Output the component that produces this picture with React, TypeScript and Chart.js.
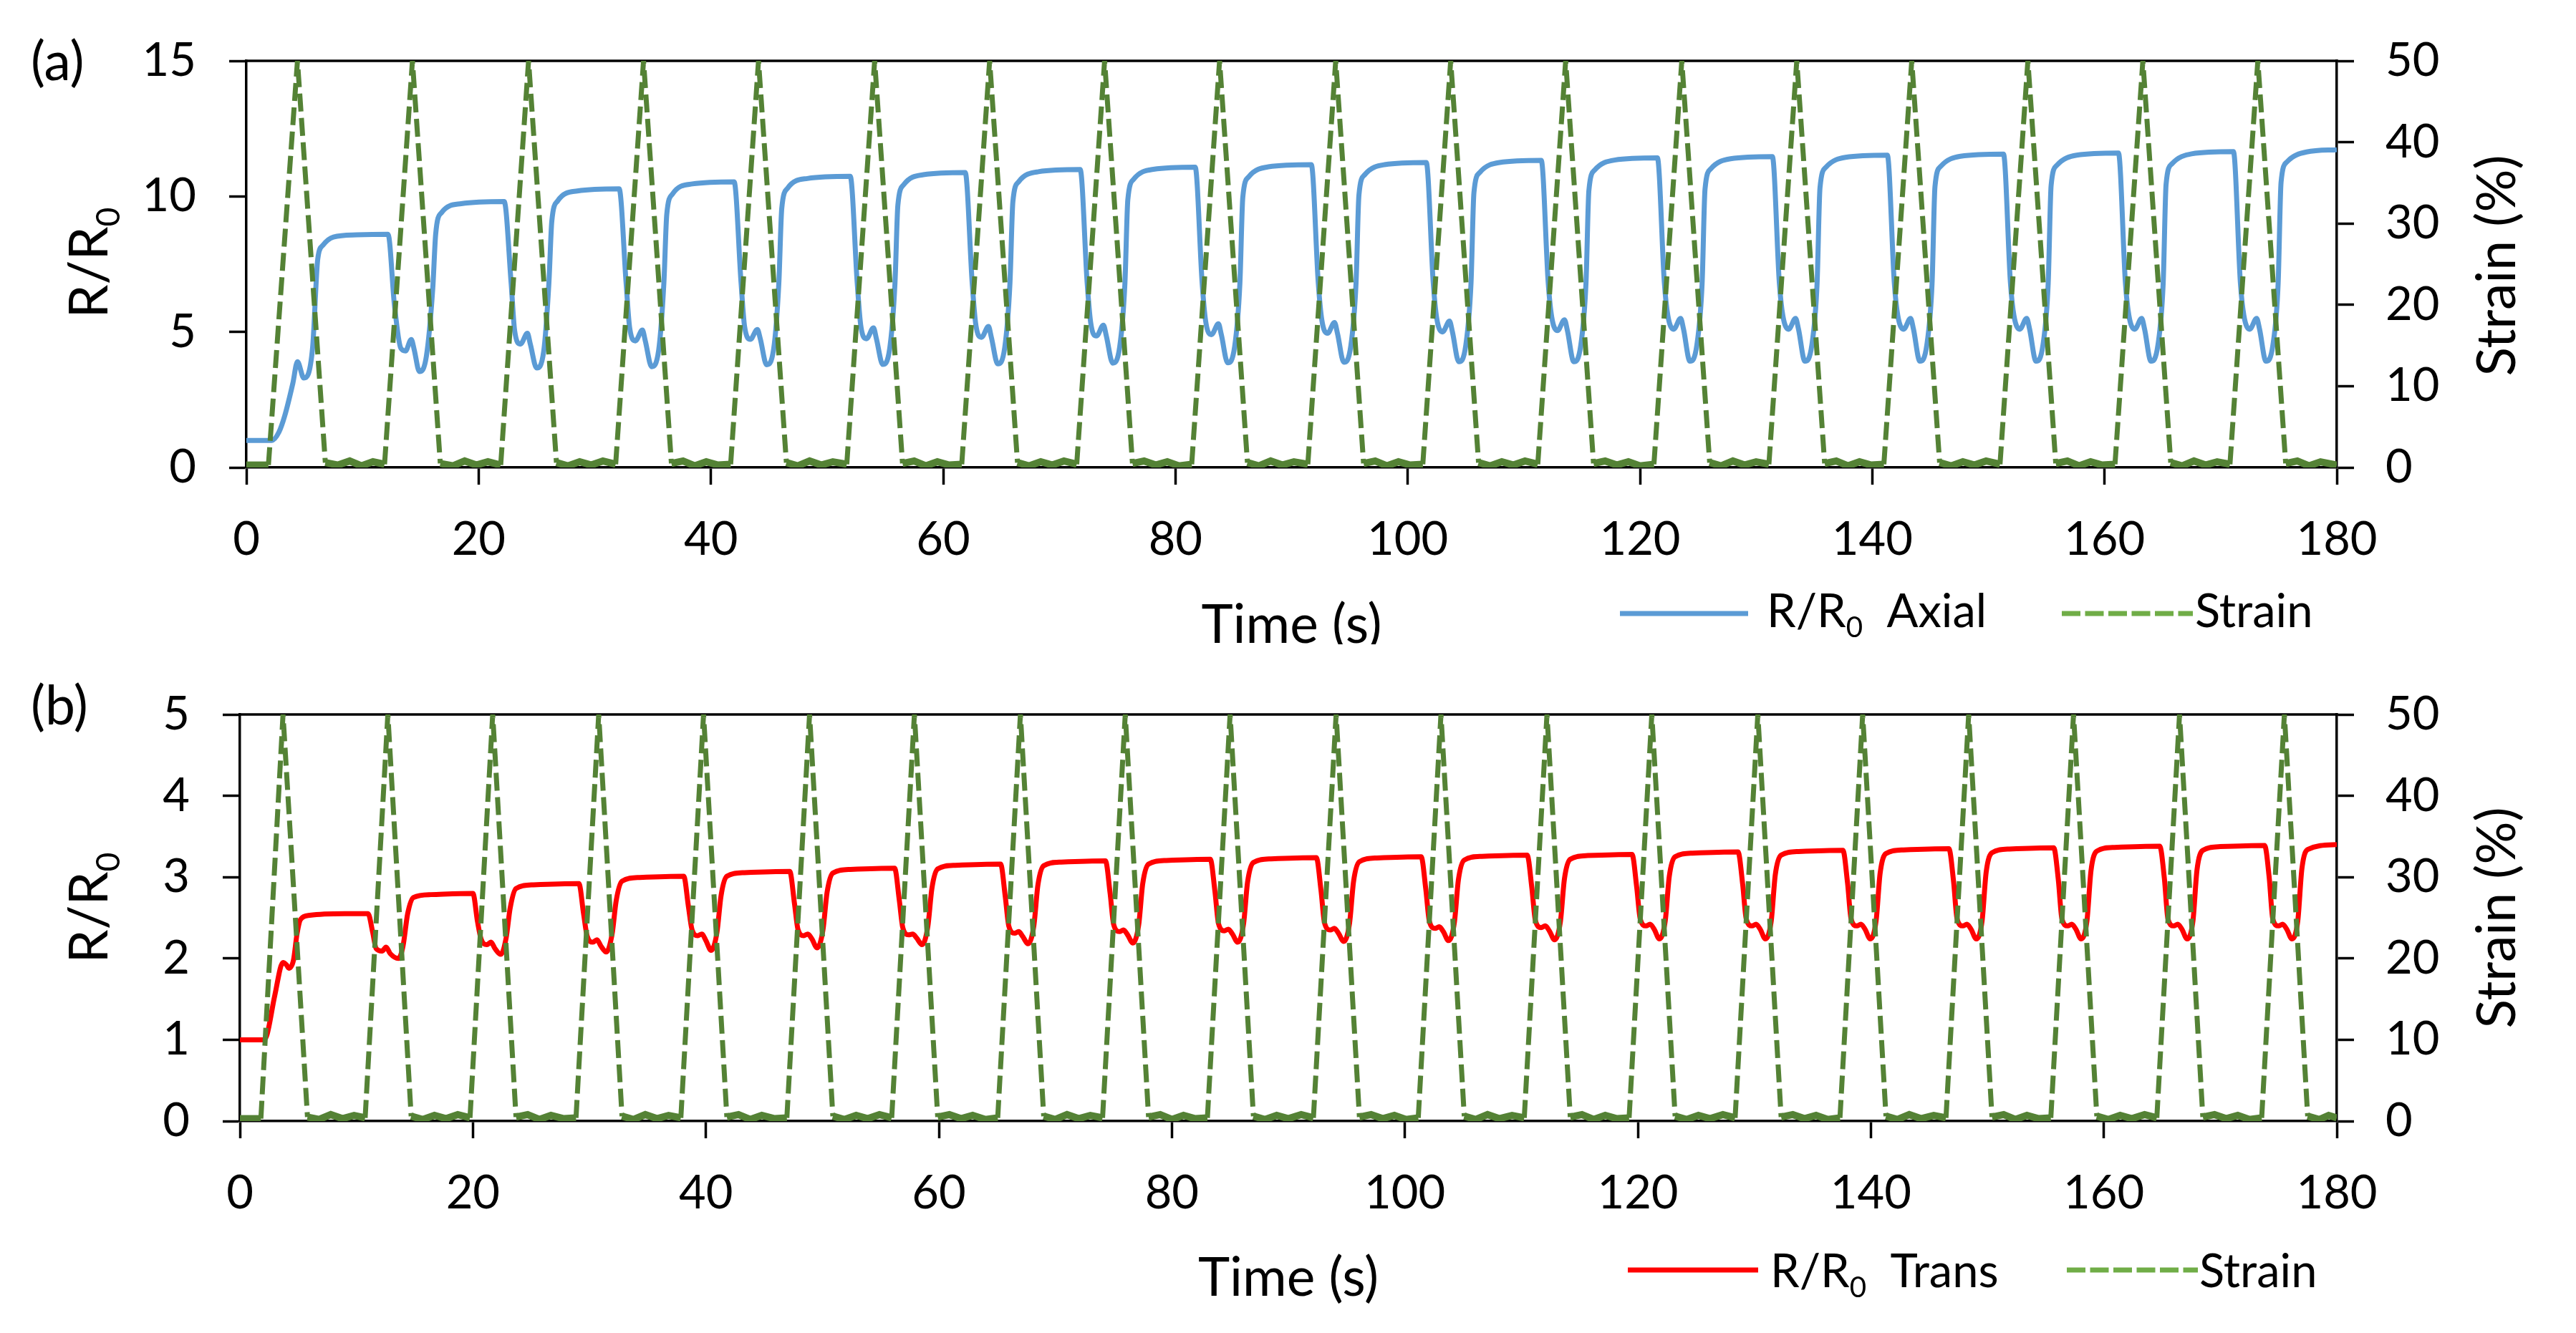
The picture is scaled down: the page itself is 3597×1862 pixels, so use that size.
import { useRef, useEffect } from 'react'
import { Chart, registerables } from 'chart.js'

Chart.register(...registerables)

type Pt = [number, number]

const TIME_TICKS = [0, 20, 40, 60, 80, 100, 120, 140, 160, 180]
const AXIAL_TICKS = [0, 5, 10, 15]
const TRANS_TICKS = [0, 1, 2, 3, 4, 5]
const STRAIN_TICKS = [0, 10, 20, 30, 40, 50]

// panel (a): R/R0 axial, read cycle by cycle
const AXIAL: Pt[] = [
  [0, 1.0], [2.2, 1.0], [2.8, 1.3], [3.3, 1.9], [4.0, 3.1], [4.4, 3.9], [4.95, 3.3], [5.7, 4.4], [6.15, 7.7], [6.6, 8.2], [7.5, 8.5], [9.5, 8.58],
  [12.2, 8.6], [12.75, 6.0], [13.3, 4.4], [13.7, 4.3], [14.2, 4.72], [14.45, 4.35], [14.9, 3.54], [15.5, 4.1], [16.05, 6.6], [16.3, 8.6], [16.8, 9.4], [18.5, 9.73],
  [22.2, 9.81], [22.8, 6.8], [23.1, 5.05], [23.6, 4.55], [24.2, 4.95], [24.45, 4.55], [25.0, 3.67], [25.6, 4.27], [26.05, 6.8], [26.3, 9.08], [26.8, 9.83], [28.5, 10.2],
  [32.1, 10.28], [32.7, 6.8], [33.0, 5.17], [33.5, 4.67], [34.1, 5.07], [34.35, 4.67], [34.9, 3.72], [35.5, 4.32], [35.95, 6.8], [36.2, 9.34], [36.7, 10.09], [38.4, 10.46],
  [42.0, 10.54], [42.6, 6.8], [42.9, 5.2], [43.4, 4.73], [44.0, 5.09], [44.25, 4.75], [44.8, 3.79], [45.4, 4.36], [45.85, 6.8], [46.1, 9.55], [46.6, 10.3], [48.3, 10.66],
  [52.0, 10.74], [52.6, 6.8], [52.9, 5.25], [53.4, 4.75], [54.0, 5.15], [54.25, 4.75], [54.8, 3.8], [55.4, 4.4], [55.85, 6.8], [56.1, 9.68], [56.6, 10.43], [58.3, 10.8],
  [61.9, 10.88], [62.5, 6.8], [62.8, 5.3], [63.3, 4.8], [63.9, 5.2], [64.15, 4.8], [64.7, 3.82], [65.3, 4.42], [65.75, 6.8], [66.0, 9.79], [66.5, 10.54], [68.2, 10.91],
  [71.8, 10.99], [72.4, 6.8], [72.7, 5.35], [73.2, 4.85], [73.8, 5.25], [74.05, 4.85], [74.6, 3.85], [75.2, 4.45], [75.65, 6.8], [75.9, 9.88], [76.4, 10.63], [78.1, 11.0],
  [81.7, 11.08], [82.3, 6.8], [82.6, 5.4], [83.1, 4.9], [83.7, 5.3], [83.95, 4.9], [84.5, 3.86], [85.1, 4.46], [85.55, 6.8], [85.8, 9.97], [86.3, 10.72], [88.0, 11.09],
  [91.7, 11.17], [92.3, 6.8], [92.6, 5.45], [93.1, 4.95], [93.7, 5.35], [93.95, 4.95], [94.5, 3.88], [95.1, 4.48], [95.55, 6.8], [95.8, 10.05], [96.3, 10.8], [98.0, 11.17],
  [101.6, 11.25], [102.2, 6.8], [102.5, 5.5], [103.0, 5.0], [103.6, 5.4], [103.85, 5.0], [104.4, 3.9], [105.0, 4.5], [105.45, 6.8], [105.7, 10.13], [106.2, 10.88], [107.9, 11.25],
  [111.5, 11.33], [112.1, 6.8], [112.4, 5.55], [112.9, 5.05], [113.5, 5.45], [113.75, 5.05], [114.3, 3.9], [114.9, 4.5], [115.35, 6.8], [115.6, 10.22], [116.1, 10.97], [117.8, 11.34],
  [121.5, 11.42], [122.1, 6.8], [122.4, 5.6], [122.9, 5.1], [123.5, 5.5], [123.75, 5.1], [124.3, 3.92], [124.9, 4.52], [125.35, 6.8], [125.6, 10.27], [126.1, 11.02], [127.8, 11.39],
  [131.4, 11.47], [132.0, 6.8], [132.3, 5.6], [132.8, 5.1], [133.4, 5.5], [133.65, 5.1], [134.2, 3.92], [134.8, 4.52], [135.25, 6.8], [135.5, 10.32], [136.0, 11.07], [137.7, 11.44],
  [141.3, 11.52], [141.9, 6.8], [142.2, 5.6], [142.7, 5.1], [143.3, 5.5], [143.55, 5.1], [144.1, 3.92], [144.7, 4.52], [145.15, 6.8], [145.4, 10.36], [145.9, 11.11], [147.6, 11.48],
  [151.3, 11.56], [151.9, 6.8], [152.2, 5.6], [152.7, 5.1], [153.3, 5.5], [153.55, 5.1], [154.1, 3.92], [154.7, 4.52], [155.15, 6.8], [155.4, 10.4], [155.9, 11.15], [157.6, 11.52],
  [161.2, 11.6], [161.8, 6.8], [162.1, 5.6], [162.6, 5.1], [163.2, 5.5], [163.45, 5.1], [164.0, 3.92], [164.6, 4.52], [165.05, 6.8], [165.3, 10.45], [165.8, 11.2], [167.5, 11.57],
  [171.1, 11.65], [171.7, 6.8], [172.0, 5.6], [172.5, 5.1], [173.1, 5.5], [173.35, 5.1], [173.9, 3.92], [174.5, 4.52], [174.95, 6.8], [175.2, 10.52], [175.7, 11.27], [177.4, 11.64], [180, 11.72],
]

const STRAIN_A: Pt[] = [
  [0, 0.3], [1.9, 0.3], [4.4, 50], [6.8, 0.6], [7.9, 0.3], [8.9, 0.8], [9.9, 0.2], [10.9, 0.7], [11.9, 0.4],
  [14.3, 50], [16.7, 0.5], [17.8, 0.2], [18.8, 0.8], [19.8, 0.3], [20.8, 0.7], [21.9, 0.3],
  [24.3, 50], [26.7, 0.6], [27.7, 0.2], [28.7, 0.7], [29.7, 0.3], [30.7, 0.8], [31.8, 0.4],
  [34.2, 50], [36.6, 0.5], [37.6, 0.8], [38.6, 0.2], [39.6, 0.7], [40.6, 0.3], [41.7, 0.4],
  [44.1, 50], [46.5, 0.6], [47.5, 0.2], [48.5, 0.8], [49.5, 0.3], [50.5, 0.7], [51.7, 0.4],
  [54.1, 50], [56.5, 0.5], [57.5, 0.8], [58.5, 0.2], [59.5, 0.7], [60.5, 0.3], [61.6, 0.4],
  [64.0, 50], [66.4, 0.6], [67.4, 0.2], [68.4, 0.7], [69.4, 0.3], [70.4, 0.8], [71.5, 0.4],
  [73.9, 50], [76.3, 0.5], [77.3, 0.8], [78.3, 0.3], [79.3, 0.7], [80.3, 0.2], [81.4, 0.4],
  [83.8, 50], [86.2, 0.6], [87.2, 0.2], [88.2, 0.8], [89.2, 0.3], [90.2, 0.7], [91.4, 0.4],
  [93.8, 50], [96.2, 0.5], [97.2, 0.8], [98.2, 0.2], [99.2, 0.7], [100.2, 0.3], [101.3, 0.4],
  [103.7, 50], [106.1, 0.6], [107.1, 0.2], [108.1, 0.7], [109.1, 0.3], [110.1, 0.8], [111.2, 0.4],
  [113.6, 50], [116.0, 0.5], [117.0, 0.8], [118.0, 0.3], [119.0, 0.7], [120.0, 0.2], [121.2, 0.4],
  [123.6, 50], [126.0, 0.6], [127.0, 0.2], [128.0, 0.8], [129.0, 0.3], [130.0, 0.7], [131.1, 0.4],
  [133.5, 50], [135.9, 0.5], [136.9, 0.8], [137.9, 0.2], [138.9, 0.7], [139.9, 0.3], [141.0, 0.4],
  [143.4, 50], [145.8, 0.6], [146.8, 0.2], [147.8, 0.7], [148.8, 0.3], [149.8, 0.8], [151.0, 0.4],
  [153.4, 50], [155.8, 0.5], [156.8, 0.8], [157.8, 0.2], [158.8, 0.7], [159.8, 0.3], [160.9, 0.4],
  [163.3, 50], [165.7, 0.6], [166.7, 0.2], [167.7, 0.8], [168.7, 0.3], [169.7, 0.7], [170.8, 0.4],
  [173.2, 50], [175.6, 0.5], [176.6, 0.8], [177.6, 0.2], [178.6, 0.7], [180, 0.3],
]

// panel (b): R/R0 transverse
const TRANS: Pt[] = [
  [0, 1.0], [2.0, 1.0], [2.3, 1.05], [3.0, 1.55], [3.7, 1.95], [4.0, 1.92], [4.2, 1.88], [4.6, 1.98], [4.9, 2.3], [5.2, 2.48], [6.0, 2.53], [9.0, 2.55],
  [11.0, 2.55], [11.4, 2.32], [11.7, 2.12], [12.2, 2.09], [12.55, 2.14], [12.9, 2.06], [13.6, 2.0], [14.0, 2.15], [14.4, 2.55], [14.9, 2.75], [16.4, 2.785],
  [20.0, 2.8], [20.4, 2.45], [20.7, 2.24], [21.2, 2.17], [21.55, 2.2], [21.9, 2.12], [22.4, 2.05], [22.85, 2.25], [23.2, 2.62], [23.7, 2.86], [25.2, 2.905],
  [29.1, 2.92], [29.5, 2.55], [29.8, 2.28], [30.3, 2.2], [30.65, 2.23], [31.0, 2.15], [31.45, 2.08], [31.95, 2.3], [32.3, 2.71], [32.8, 2.95], [34.3, 2.995],
  [38.1, 3.01], [38.5, 2.64], [38.8, 2.36], [39.3, 2.28], [39.65, 2.3], [40.0, 2.22], [40.45, 2.1], [40.95, 2.32], [41.3, 2.77], [41.8, 3.01], [43.3, 3.055],
  [47.2, 3.07], [47.6, 2.68], [47.9, 2.36], [48.4, 2.28], [48.75, 2.3], [49.1, 2.24], [49.55, 2.13], [50.05, 2.35], [50.4, 2.81], [50.9, 3.05], [52.4, 3.095],
  [56.2, 3.11], [56.6, 2.72], [56.9, 2.38], [57.4, 2.29], [57.75, 2.3], [58.1, 2.25], [58.55, 2.17], [59.05, 2.39], [59.4, 2.86], [59.9, 3.1], [61.4, 3.145],
  [65.3, 3.16], [65.7, 2.76], [66.0, 2.4], [66.5, 2.31], [66.85, 2.33], [67.2, 2.27], [67.65, 2.18], [68.15, 2.4], [68.5, 2.9], [69.0, 3.14], [70.5, 3.185],
  [74.3, 3.2], [74.7, 2.8], [75.0, 2.42], [75.5, 2.33], [75.85, 2.35], [76.2, 2.29], [76.65, 2.19], [77.15, 2.41], [77.5, 2.92], [78.0, 3.16], [79.5, 3.205],
  [83.3, 3.22], [83.7, 2.82], [84.0, 2.43], [84.5, 2.34], [84.85, 2.36], [85.2, 2.3], [85.65, 2.2], [86.15, 2.42], [86.5, 2.94], [87.0, 3.18], [88.5, 3.225],
  [92.4, 3.24], [92.8, 2.84], [93.1, 2.44], [93.6, 2.35], [93.95, 2.37], [94.3, 2.31], [94.75, 2.21], [95.25, 2.43], [95.6, 2.95], [96.1, 3.19], [97.6, 3.235],
  [101.4, 3.25], [101.8, 2.85], [102.1, 2.46], [102.6, 2.37], [102.95, 2.39], [103.3, 2.33], [103.75, 2.22], [104.25, 2.44], [104.6, 2.97], [105.1, 3.21], [106.6, 3.255],
  [110.5, 3.27], [110.9, 2.87], [111.2, 2.47], [111.7, 2.38], [112.05, 2.4], [112.4, 2.34], [112.85, 2.23], [113.35, 2.45], [113.7, 2.98], [114.2, 3.22], [115.7, 3.265],
  [119.5, 3.28], [119.9, 2.88], [120.2, 2.49], [120.7, 2.4], [121.05, 2.42], [121.4, 2.36], [121.85, 2.24], [122.35, 2.46], [122.7, 3.01], [123.2, 3.25], [124.7, 3.295],
  [128.6, 3.31], [129.0, 2.91], [129.3, 2.49], [129.8, 2.4], [130.15, 2.42], [130.5, 2.36], [130.95, 2.24], [131.45, 2.46], [131.8, 3.03], [132.3, 3.27], [133.8, 3.315],
  [137.6, 3.33], [138.0, 2.93], [138.3, 2.49], [138.8, 2.4], [139.15, 2.42], [139.5, 2.36], [139.95, 2.24], [140.45, 2.46], [140.8, 3.05], [141.3, 3.29], [142.8, 3.335],
  [146.7, 3.35], [147.1, 2.95], [147.4, 2.49], [147.9, 2.4], [148.25, 2.42], [148.6, 2.36], [149.05, 2.24], [149.55, 2.46], [149.9, 3.06], [150.4, 3.3], [151.9, 3.345],
  [155.7, 3.36], [156.1, 2.96], [156.4, 2.49], [156.9, 2.4], [157.25, 2.42], [157.6, 2.36], [158.05, 2.24], [158.55, 2.46], [158.9, 3.08], [159.4, 3.32], [160.9, 3.365],
  [164.8, 3.38], [165.2, 2.98], [165.5, 2.49], [166.0, 2.4], [166.35, 2.42], [166.7, 2.36], [167.15, 2.24], [167.65, 2.46], [168.0, 3.09], [168.5, 3.33], [170.0, 3.375],
  [173.8, 3.39], [174.2, 2.99], [174.5, 2.49], [175.0, 2.4], [175.35, 2.42], [175.7, 2.36], [176.15, 2.24], [176.65, 2.46], [177.0, 3.1], [177.5, 3.34], [180, 3.4],
]

const STRAIN_B: Pt[] = [
  [0, 0.3], [1.8, 0.3], [3.7, 50], [5.8, 0.5], [6.8, 0.2], [7.8, 0.8], [8.8, 0.3], [9.8, 0.7], [10.75, 0.4],
  [12.7, 50], [14.7, 0.6], [15.7, 0.2], [16.7, 0.7], [17.7, 0.3], [18.7, 0.8], [19.75, 0.4],
  [21.7, 50], [23.7, 0.5], [24.7, 0.8], [25.7, 0.2], [26.7, 0.7], [27.8, 0.3], [28.85, 0.4],
  [30.8, 50], [32.8, 0.6], [33.8, 0.2], [34.8, 0.8], [35.8, 0.3], [36.8, 0.7], [37.85, 0.4],
  [39.8, 50], [41.8, 0.5], [42.8, 0.8], [43.8, 0.2], [44.8, 0.7], [45.9, 0.3], [46.95, 0.4],
  [48.9, 50], [50.9, 0.6], [51.9, 0.2], [52.9, 0.7], [53.9, 0.3], [54.9, 0.8], [55.95, 0.4],
  [57.9, 50], [59.9, 0.5], [60.9, 0.8], [61.9, 0.3], [62.9, 0.7], [64.0, 0.2], [65.05, 0.4],
  [67.0, 50], [69.0, 0.6], [70.0, 0.2], [71.0, 0.8], [72.0, 0.3], [73.0, 0.7], [74.05, 0.4],
  [76.0, 50], [78.0, 0.5], [79.0, 0.8], [80.0, 0.2], [81.0, 0.7], [82.0, 0.3], [83.05, 0.4],
  [85.0, 50], [87.0, 0.6], [88.0, 0.2], [89.0, 0.7], [90.0, 0.3], [91.1, 0.8], [92.15, 0.4],
  [94.1, 50], [96.1, 0.5], [97.1, 0.8], [98.1, 0.3], [99.1, 0.7], [100.1, 0.2], [101.15, 0.4],
  [103.1, 50], [105.1, 0.6], [106.1, 0.2], [107.1, 0.8], [108.1, 0.3], [109.2, 0.7], [110.25, 0.4],
  [112.2, 50], [114.2, 0.5], [115.2, 0.8], [116.2, 0.2], [117.2, 0.7], [118.2, 0.3], [119.25, 0.4],
  [121.2, 50], [123.2, 0.6], [124.2, 0.2], [125.2, 0.7], [126.2, 0.3], [127.3, 0.8], [128.35, 0.4],
  [130.3, 50], [132.3, 0.5], [133.3, 0.8], [134.3, 0.3], [135.3, 0.7], [136.3, 0.2], [137.35, 0.4],
  [139.3, 50], [141.3, 0.6], [142.3, 0.2], [143.3, 0.8], [144.3, 0.3], [145.4, 0.7], [146.45, 0.4],
  [148.4, 50], [150.4, 0.5], [151.4, 0.8], [152.4, 0.2], [153.4, 0.7], [154.4, 0.3], [155.45, 0.4],
  [157.4, 50], [159.4, 0.6], [160.4, 0.2], [161.4, 0.7], [162.4, 0.3], [163.5, 0.8], [164.55, 0.4],
  [166.5, 50], [168.5, 0.5], [169.5, 0.8], [170.5, 0.3], [171.5, 0.7], [172.5, 0.2], [173.55, 0.4],
  [175.5, 50], [177.5, 0.6], [178.5, 0.2], [179.3, 0.7], [180, 0.4],
]

const FONT = 'Lato'
const TICK_SIZE = 65
const TITLE_SIZE = 75
const LEGEND_SIZE = 65
const AXIS_W = 3.5
const TICK_LEN = 24
const GREEN = '#548235'
const GREEN_LEGEND = '#70AD47'

type Run = { t: string; sub?: boolean }

function drawRuns(ctx: CanvasRenderingContext2D, runs: Run[], x: number, y: number, size: number, center: boolean) {
  const subSize = size * 0.62
  const widths = runs.map((r) => {
    ctx.font = `${r.sub ? subSize : size}px ${FONT}`
    return ctx.measureText(r.t).width
  })
  const total = widths.reduce((a, b) => a + b, 0)
  let cx = center ? x - total / 2 : x
  runs.forEach((r, i) => {
    ctx.font = `${r.sub ? subSize : size}px ${FONT}`
    ctx.fillText(r.t, cx, y + (r.sub ? size * 0.22 : 0))
    cx += widths[i]
  })
}

interface PanelCfg {
  top: number
  height: number
  padTop: number
  leftW: number
  rightW: number
  xAxisH: number
  letter: string
  rTicks: number[]
  rData: Pt[]
  rColor: string
  rName: string
  strain: Pt[]
  yTitleY: number
  y2TitleY: number
  xTitleBase: number
  legendLineY: number
  legendTextBase: number
  legendX: number[] // line start, line end, text x, dash start, dash end, strain text x
}

const PANEL_A: PanelCfg = {
  top: 0, height: 900, padTop: 81, leftW: 344, rightW: 334, xAxisH: 247,
  letter: '(a)', rTicks: AXIAL_TICKS, rData: AXIAL, rColor: '#5B9BD5', rName: 'Axial', strain: STRAIN_A,
  yTitleY: 367, y2TitleY: 371, xTitleBase: 898, legendLineY: 857, legendTextBase: 876,
  legendX: [2262, 2441, 2467, 2879, 3062, 3065],
}

const PANEL_B: PanelCfg = {
  top: 900, height: 962, padTop: 98, leftW: 335, rightW: 334, xAxisH: 296,
  letter: '(b)', rTicks: TRANS_TICKS, rData: TRANS, rColor: '#FF0000', rName: 'Trans', strain: STRAIN_B,
  yTitleY: 368, y2TitleY: 382, xTitleBase: 910, legendLineY: 874, legendTextBase: 898,
  legendX: [2273, 2455, 2472, 2886, 3069, 3071],
}

function Panel({ cfg }: { cfg: PanelCfg }) {
  const canvasRef = useRef<HTMLCanvasElement>(null)

  useEffect(() => {
    if (!canvasRef.current) return
    const tickFont = { family: FONT, size: TICK_SIZE }
    const grid = { display: true, drawOnChartArea: false, drawTicks: true, tickLength: TICK_LEN, tickWidth: AXIS_W, tickColor: '#000', color: '#000' }
    const border = { display: true, color: '#000', width: AXIS_W }
    // the strain rests near zero between pulses: draw that stretch as a thick solid band
    const atRest = (c: any) => c.p0.parsed.y < 2 && c.p1.parsed.y < 2

    const decor = {
      id: 'decor',
      beforeDatasetsDraw(chart: Chart) {
        const { ctx, chartArea: a } = chart
        ctx.save()
        ctx.strokeStyle = '#000'
        ctx.lineWidth = AXIS_W
        ctx.beginPath()
        ctx.moveTo(a.left - AXIS_W / 2, a.top)
        ctx.lineTo(a.right + AXIS_W / 2, a.top)
        ctx.stroke()
        ctx.restore()
      },
      afterDraw(chart: Chart) {
        const { ctx, chartArea: a } = chart
        ctx.save()
        ctx.fillStyle = '#000'
        ctx.textAlign = 'left'
        ctx.textBaseline = 'alphabetic'

        // panel letter
        ctx.font = `${TITLE_SIZE}px ${FONT}`
        ctx.fillText(cfg.letter, 43, 112)

        // left title
        ctx.save()
        ctx.translate(150, cfg.yTitleY)
        ctx.rotate(-Math.PI / 2)
        drawRuns(ctx, [{ t: 'R/R' }, { t: '0', sub: true }], 0, 0, TITLE_SIZE, true)
        ctx.restore()

        // right title
        ctx.save()
        ctx.translate(3512, cfg.y2TitleY)
        ctx.rotate(-Math.PI / 2)
        drawRuns(ctx, [{ t: 'Strain (%)' }], 0, 0, TITLE_SIZE, true)
        ctx.restore()

        // x title
        drawRuns(ctx, [{ t: 'Time (s)' }], (a.left + a.right) / 2, cfg.xTitleBase, TITLE_SIZE, true)

        // legend
        const [l0, l1, tx, d0, d1, sx] = cfg.legendX
        ctx.lineCap = 'butt'
        ctx.strokeStyle = cfg.rColor
        ctx.lineWidth = 7
        ctx.beginPath()
        ctx.moveTo(l0, cfg.legendLineY)
        ctx.lineTo(l1, cfg.legendLineY)
        ctx.stroke()
        drawRuns(ctx, [{ t: 'R/R' }, { t: '0', sub: true }, { t: '  ' + cfg.rName }], tx, cfg.legendTextBase, LEGEND_SIZE, false)

        ctx.strokeStyle = GREEN_LEGEND
        ctx.setLineDash([26, 6.5])
        ctx.beginPath()
        ctx.moveTo(d0, cfg.legendLineY)
        ctx.lineTo(d1, cfg.legendLineY)
        ctx.stroke()
        ctx.setLineDash([])
        drawRuns(ctx, [{ t: 'Strain' }], sx, cfg.legendTextBase, LEGEND_SIZE, false)
        ctx.restore()
      },
    }

    const chart = new Chart(canvasRef.current, {
      type: 'line',
      data: {
        datasets: [
          {
            label: 'Strain',
            data: cfg.strain.map(([x, y]) => ({ x, y })),
            yAxisID: 'y2',
            borderColor: GREEN,
            borderWidth: 7,
            borderDash: [25, 9],
            pointRadius: 0,
            tension: 0,
            order: 0,
            segment: {
              borderDash: (c: any) => (atRest(c) ? [] : undefined),
              borderWidth: (c: any) => (atRest(c) ? 10 : undefined),
            },
          },
          {
            label: 'R/R0 ' + cfg.rName,
            data: cfg.rData.map(([x, y]) => ({ x, y })),
            yAxisID: 'y',
            borderColor: cfg.rColor,
            borderWidth: 7,
            pointRadius: 0,
            cubicInterpolationMode: 'monotone',
            borderJoinStyle: 'round',
            order: 1,
          },
        ],
      },
      options: {
        animation: false,
        responsive: true,
        maintainAspectRatio: false,
        layout: { padding: { top: cfg.padTop, left: 0, right: 0, bottom: 0 } },
        plugins: { legend: { display: false }, tooltip: { enabled: false } },
        scales: {
          x: {
            type: 'linear',
            min: 0,
            max: 180,
            afterBuildTicks: (s: any) => { s.ticks = TIME_TICKS.map((value) => ({ value })) },
            afterFit: (s: any) => { s.height = cfg.xAxisH },
            ticks: { font: tickFont, color: '#000', padding: 38, maxRotation: 0, autoSkip: false },
            grid,
            border,
          },
          y: {
            position: 'left',
            min: 0,
            max: cfg.rTicks[cfg.rTicks.length - 1],
            afterBuildTicks: (s: any) => { s.ticks = cfg.rTicks.map((value) => ({ value })) },
            afterFit: (s: any) => { s.width = cfg.leftW },
            ticks: { font: tickFont, color: '#000', padding: 46 },
            grid,
            border,
          },
          y2: {
            position: 'right',
            min: 0,
            max: 50,
            afterBuildTicks: (s: any) => { s.ticks = STRAIN_TICKS.map((value) => ({ value })) },
            afterFit: (s: any) => { s.width = cfg.rightW },
            ticks: { font: tickFont, color: '#000', padding: 44 },
            grid,
            border,
          },
        },
      } as any,
      plugins: [decor],
    })

    return () => {
      chart.destroy()
    }
  }, [cfg])

  return (
    <div style={{ position: 'absolute', left: 0, top: cfg.top, width: 3597, height: cfg.height }}>
      <canvas ref={canvasRef} />
    </div>
  )
}

export default function App() {
  return (
    <div style={{ position: 'absolute', left: 0, top: 0, width: 3597, height: 1862, background: '#fff', overflow: 'hidden' }}>
      <Panel cfg={PANEL_A} />
      <Panel cfg={PANEL_B} />
    </div>
  )
}
